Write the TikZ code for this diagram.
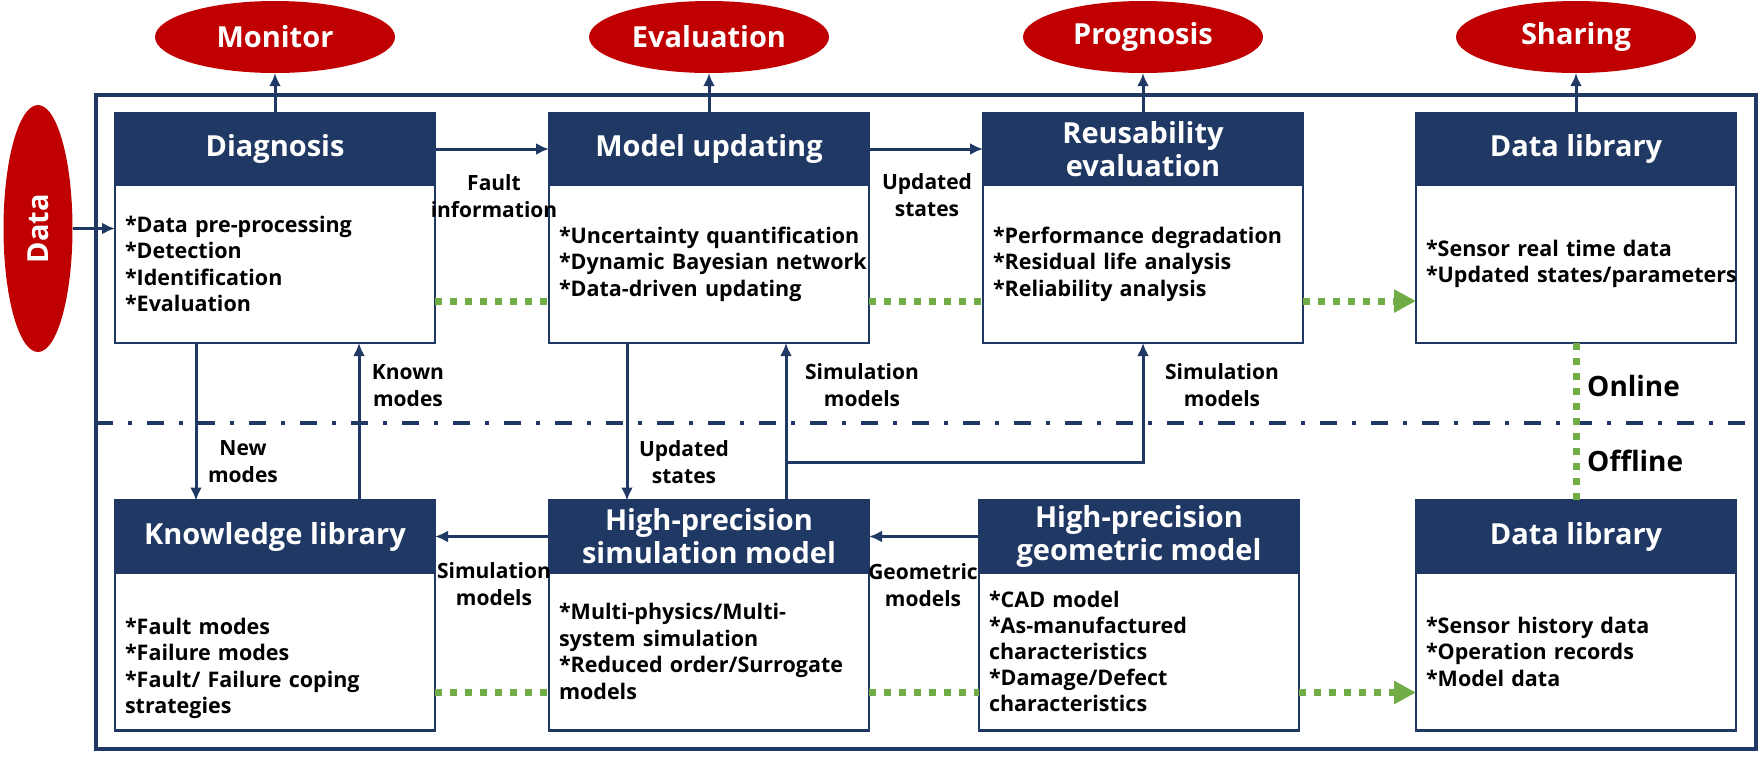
\documentclass[tikz,border=0pt]{standalone}
\usepackage{fontspec}
\setmainfont{Open Sans}
\usetikzlibrary{positioning,shapes.geometric,arrows.meta}
\definecolor{navy}{HTML}{1F3864}
\definecolor{alarmred}{HTML}{C00000}
\definecolor{leafgreen}{HTML}{70AD47}

\begin{document}
\begin{tikzpicture}[x=1pt,y=-1pt,
    head/.style={fill=navy,draw=navy,line width=2.5pt,text=white,outer sep=0pt,
      font=\fontsize{29}{33}\selectfont\bfseries,align=center,
      minimum width=320pt,minimum height=72pt,inner sep=0pt},
    body/.style={fill=white,draw=navy,line width=2.5pt,outer sep=0pt,
      font={\fontsize{21.5}{26.5}\selectfont\bfseries\hyphenpenalty10000\relax},
      align=left,text width=300pt,inner xsep=10pt,inner ysep=0pt,minimum height=158pt},
    goal/.style={ellipse,fill=alarmred,text=white,inner sep=0pt,
      font=\fontsize{29}{33}\selectfont\bfseries,
      minimum width=240pt,minimum height=72pt},
    note/.style={font=\fontsize{21}{27}\selectfont\bfseries,align=center,inner sep=0pt},
    flow/.style={draw=navy,line width=3pt,-{Latex[length=13pt,width=12pt]}},
    share/.style={draw=leafgreen,line width=7pt,dash pattern=on 7pt off 8pt}]
  \useasboundingbox (0,0) rectangle (1760,756);

  % frame and online/offline border
  \draw[navy,line width=4pt] (96,95) rectangle (1756,749);
  \draw[navy,line width=4pt,dash pattern=on 17pt off 15pt on 4pt off 15pt]
    (96,423) -- (1756,423);

  % online row
  \node[head] (diaghead) at (275,149) {Diagnosis};
  \node[body,below=0pt of diaghead] (diagbody)
    {*Data pre-processing\\{*}Detection\\{*}Identification\\{*}Evaluation};
  \node[head] (muhead) at (709,149) {Model updating};
  \node[body,below=0pt of muhead] (mubody)
    {*Uncertainty~quantification\\{*}Dynamic~Bayesian~network\\{*}Data-driven updating};
  \node[head] (reushead) at (1143,149) {Reusability\\evaluation};
  \node[body,below=0pt of reushead] (reusbody)
    {*Performance~degradation\\{*}Residual life analysis\\{*}Reliability analysis};
  \node[head] (livehead) at (1576,149) {Data library};
  \node[body,below=0pt of livehead] (livebody)
    {*Sensor real time data\\{*}Updated~states/parameters};

  % offline row
  \node[head] (klhead) at (275,536.5) {Knowledge library};
  \node[body,below=0pt of klhead] (klbody)
    {\rule{0pt}{50pt}*Fault modes\\{*}Failure modes\\{*}Fault/ Failure coping\\strategies};
  \node[head] (simhead) at (709,536.5) {High-precision\\simulation model};
  \node[body,below=0pt of simhead] (simbody)
    {*Multi-physics/Multi-\\system simulation\\{*}Reduced~order/Surrogate\\models};
  \node[head] (geohead) at (1139,536.5) {High-precision\\geometric model};
  \node[body,below=0pt of geohead,font=\fontsize{21.5}{25.8}\selectfont\bfseries] (geobody)
    {*CAD model\\{*}As-manufactured\\characteristics\\{*}Damage/Defect\\characteristics};
  \node[head] (archhead) at (1576,536.5) {Data library};
  \node[body,below=0pt of archhead] (archbody)
    {*Sensor history data\\{*}Operation records\\{*}Model data};

  % outputs and input
  \node[goal] (monitor) at (275,37) {Monitor};
  \node[goal] (evaluation) at (709,37) {Evaluation};
  \node[goal] (prognosis) at (1143,37) {Prognosis};
  \node[goal] (sharing) at (1576,37) {Sharing};
  \node[goal,rotate=90,minimum width=247pt,minimum height=69pt] (data) at (38,228.5) {Data};

  % labels
  \node[note] (faultinfo) at (494,196) {Fault\\information};
  \node[note] (updtop) at (927,195) {Updated\\states};
  \node[note] (knownmodes) at (408,386) {Known\\modes};
  \node[note] (newmodes) at (243,462) {New\\modes};
  \node[note] (updmid) at (684,462) {Updated\\states};
  \node[note] (simmid) at (862,385) {Simulation\\models};
  \node[note] (simright) at (1222,385) {Simulation\\models};
  \node[note] (simleft) at (494,584) {Simulation\\models};
  \node[note] (geomodels) at (923,585) {Geometric\\models};
  \node[note,anchor=west,font=\fontsize{28}{32}\selectfont\bfseries] (online) at (1587,386) {Online};
  \node[note,anchor=west,font=\fontsize{28}{32}\selectfont\bfseries] (offline) at (1587,461) {Offline};

  \coordinate (fork) at (786,462);

  \begin{scope}[flow]
    \draw (data) -- (data -| diagbody.west);
    \draw (diaghead.north) -- (monitor.south);
    \draw (muhead.north) -- (evaluation.south);
    \draw (reushead.north) -- (prognosis.south);
    \draw (livehead.north) -- (sharing.south);
    \draw (diaghead.east) -- (muhead.west);
    \draw (muhead.east) -- (reushead.west);
    \draw (simhead.west) -- (klhead.east);
    \draw (geohead.west) -- (simhead.east);
    \draw ([xshift=81pt]diagbody.south west) -- ([xshift=81pt]klhead.north west);
    \draw ([xshift=244pt]klhead.north west) -- ([xshift=244pt]diagbody.south west);
    \draw ([xshift=78pt]mubody.south west) -- ([xshift=78pt]simhead.north west);
    \draw ([xshift=237pt]simhead.north west) -- ([xshift=237pt]mubody.south west);
    \draw (fork) -| (reusbody.south);
  \end{scope}

  \begin{scope}[share]
    \draw ([yshift=42pt]diagbody.south east) -- ([yshift=42pt]mubody.south west);
    \draw ([yshift=42pt]mubody.south east) -- ([yshift=42pt]reusbody.south west);
    \draw[-{Triangle[length=22pt,width=22pt]}]
      ([yshift=42pt]reusbody.south east) -- ([yshift=42pt]livebody.south west);
    \draw ([yshift=38pt]klbody.south east) -- ([yshift=38pt]simbody.south west);
    \draw ([yshift=38pt]simbody.south east) -- ([yshift=38pt]geobody.south west);
    \draw[-{Triangle[length=22pt,width=22pt]}]
      ([yshift=38pt]geobody.south east) -- ([yshift=38pt]archbody.south west);
    \draw (livebody.south) -- (archhead.north);
  \end{scope}
\end{tikzpicture}
\end{document}
